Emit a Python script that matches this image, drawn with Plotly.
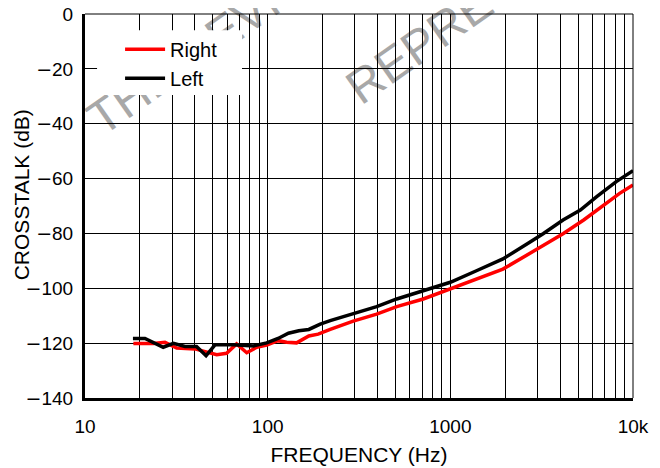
import plotly.graph_objects as go

# Data
left_freq = [18.3, 21.3, 26.8, 30.5, 35.3, 40.8, 46.0, 51.5, 64.9, 83.6, 98.8, 114, 130, 148, 168, 194, 220,
             294, 395, 509, 711, 1000, 1390, 1940, 2720, 3220, 4140, 5150, 6330, 8100, 10000]
left_db = [-118.3, -118.3, -121.5, -120.1, -121.2, -121.2, -124.6, -120.6, -120.6, -121.0, -119.9, -118.3,
           -116.4, -115.5, -115.0, -113.1, -111.8, -109.4, -106.7, -103.9, -100.9, -97.8, -93.6, -89.3,
           -83.2, -80.1, -75.1, -71.5, -66.6, -61.1, -57.1]

right_freq = [18.4, 23.7, 27.4, 31.8, 40.0, 46.3, 52.6, 59.6, 67.6, 76.8, 87.1, 98.8, 114, 127, 144, 168, 189,
              220, 294, 395, 509, 711, 1000, 1390, 1940, 2990, 4140, 5370, 6970, 8450, 10000]
right_db = [-120.1, -120.1, -119.7, -121.8, -122.1, -123.3, -124.2, -123.7, -120.3, -123.5, -121.5, -120.7,
            -119.1, -119.7, -119.9, -117.4, -116.7, -115.0, -112.0, -109.4, -106.7, -103.9, -100.3, -96.6,
            -93.0, -85.7, -80.1, -75.1, -69.6, -65.4, -62.3]

x_major = [10, 100, 1000, 10000]
x_major_text = ["10", "100", "1000", "10k"]
x_minor = [m * d for d in (10, 100, 1000) for m in range(2, 10)]
y_ticks = [0, -20, -40, -60, -80, -100, -120, -140]
MINUS = "<span style='font-family:DejaVu Sans'>\u2212</span>"
y_tick_text = ["0"] + [MINUS + str(abs(v)) for v in y_ticks[1:]]

watermark_texts = ["THE DEVICE", "REPRESENTATIVE"]

FONT = "Liberation Sans, Arial, Helvetica, sans-serif"

fig = go.Figure()
fig.add_trace(go.Scatter(x=right_freq, y=right_db, mode="lines", name="Right",
                         line=dict(color="#ff0000", width=3.5)))
fig.add_trace(go.Scatter(x=left_freq, y=left_db, mode="lines", name="Left",
                         line=dict(color="#000000", width=3.5)))

# page body has an 8px margin, so the figure is 652x460 and offset by 8px
fig.update_layout(
    width=652, height=460,
    margin=dict(l=77, r=27, t=6, b=70, autoexpand=False),
    paper_bgcolor="white", plot_bgcolor="rgba(0,0,0,0)",
    font=dict(family=FONT, size=18, color="black"),
    showlegend=True,
    legend=dict(x=0.064, y=0.959, xanchor="left", yanchor="top",
                bgcolor="rgba(0,0,0,0)", borderwidth=0,
                font=dict(family=FONT, size=20, color="black"),
                itemwidth=40, tracegroupgap=0),
    xaxis=dict(
        type="log", range=[1, 4], automargin=False,
        tickvals=x_major, ticktext=x_major_text,
        showgrid=True, gridcolor="black", gridwidth=1,
        minor=dict(tickvals=x_minor, showgrid=True, gridcolor="black", gridwidth=1, ticks=""),
        showline=True, linecolor="black", linewidth=3,
        ticks="", ticklabelstandoff=9, ticklabeloverflow="allow",
        tickfont=dict(family=FONT, size=19),
        title=dict(text="FREQUENCY (Hz)", font=dict(family=FONT, size=21), standoff=12),
        zeroline=False,
    ),
    yaxis=dict(
        range=[-140, 0], automargin=False,
        tickvals=y_ticks, ticktext=y_tick_text,
        showgrid=True, gridcolor="black", gridwidth=1,
        showline=True, linecolor="black", linewidth=3,
        ticks="", ticklabelstandoff=5, ticklabeloverflow="allow",
        tickfont=dict(family=FONT, size=19),
        zeroline=False,
    ),
    annotations=[dict(text="CROSSTALK (dB)", xref="paper", yref="paper",
                      x=-0.116, y=0.529, xanchor="center", yanchor="middle",
                      textangle=-90, showarrow=False,
                      font=dict(family=FONT, size=21, color="black"))],
)

# faint rotated watermark beneath the grid
wm_lines = [((0.0366, 0.669), (0.634, 1.266)), ((0.509, 0.750), (1.107, 1.347))]
for txt, ((x0, y0), (x1, y1)) in zip(watermark_texts, wm_lines):
    fig.add_shape(type="line", xref="paper", yref="paper", x0=x0, y0=y0, x1=x1, y1=y1,
                  line=dict(width=0, color="rgba(0,0,0,0)"), layer="below",
                  label=dict(text=txt, textposition="start", xanchor="left", yanchor="bottom",
                             padding=0,
                             font=dict(family=FONT, size=48, color="#a8a8a8")))

# thin frame on top and right
fig.add_shape(type="line", xref="paper", yref="paper", x0=0, x1=1, y0=1, y1=1,
              line=dict(color="black", width=1))
fig.add_shape(type="line", xref="paper", yref="paper", x0=1, x1=1, y0=0, y1=1,
              line=dict(color="black", width=1))
# white legend background box covering the grid
fig.add_shape(type="rect", xref="paper", yref="paper", x0=0.022, x1=0.2865, y0=0.789, y1=0.958,
              fillcolor="white", line=dict(width=0), layer="above")

fig.write_html("out.html")
